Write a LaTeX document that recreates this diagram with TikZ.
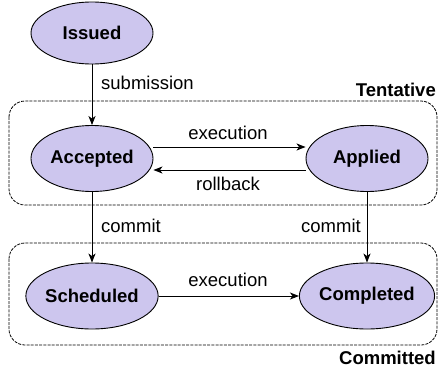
\documentclass[tikz,border=0pt]{standalone}
\usepackage{fontspec}
\setmainfont{Liberation Sans}
\usetikzlibrary{shapes.geometric,arrows.meta}
\definecolor{statefill}{RGB}{205,198,238}
\begin{document}
\begin{tikzpicture}[x=1pt,y=-1pt,
  state/.style={ellipse,draw=black,line width=0.9pt,fill=statefill,
    minimum width=122pt,minimum height=66pt,inner sep=0pt,
    font=\fontsize{18.5}{20}\selectfont\bfseries},
  tr/.style={draw=black,line width=1pt,-{Stealth[length=9pt,width=7pt,inset=2.5pt]}},
  lbl/.style={font=\fontsize{18.5}{20}\selectfont,inner sep=0pt},
  grp/.style={draw=black,line width=0.8pt,dash pattern=on 3pt off 1.2pt,rounded corners=16pt},
  grplbl/.style={font=\fontsize{18.5}{20}\selectfont\bfseries,inner sep=0pt}]
\useasboundingbox (0,0) rectangle (439,370);

% group frames
\draw[grp] (9,101) rectangle (437,205);
\draw[grp] (9,243) rectangle (437,345);
\node[grplbl,anchor=east] (tent) at (436,90) {Tentative};
\node[grplbl,anchor=east] (comm) at (436,358) {Committed};

% states
\node[state,minimum height=62pt] (iss) at (92,33) {Issued};
\node[state] (acc) at (92,158.5) {Accepted};
\node[state] (app) at (367,158.5) {Applied};
\node[state] (sch) at (92,296) {Scheduled};
\node[state] (cmp) at (367,296) {Completed};

% transitions (yshift is in page units, so positive is upward)
\draw[tr] (iss) -- (acc);
\node[lbl,anchor=west] (lsub) at (101,83) {submission};

\draw[tr] ([yshift=11.5pt]acc.east) -- ([yshift=11.5pt]app.west);
\node[lbl] (lex1) at (228,133) {execution};
\draw[tr] ([yshift=-11.5pt]app.west) -- ([yshift=-11.5pt]acc.east);
\node[lbl] (lrb) at (228,184) {rollback};

\draw[tr] (acc) -- (sch);
\node[lbl,anchor=west] (lc1) at (101,226) {commit};
\draw[tr] (app) -- (cmp);
\node[lbl,anchor=east] (lc2) at (361,226) {commit};

\draw[tr] (sch) -- (cmp);
\node[lbl] (lex2) at (228,280) {execution};
\end{tikzpicture}
\end{document}
